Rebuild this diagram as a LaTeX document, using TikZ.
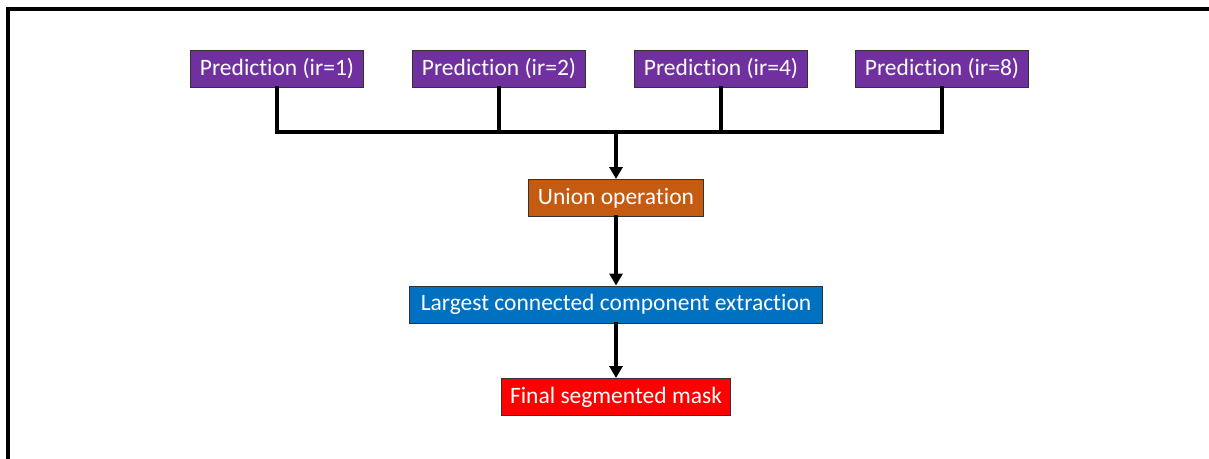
\documentclass[tikz,border=0pt]{standalone}
\usepackage{fontspec}
\setmainfont[Ligatures=NoCommon]{Carlito}
\usetikzlibrary{arrows.meta}
\definecolor{predpurple}{HTML}{7030A0}
\definecolor{unionorange}{HTML}{C55A11}
\definecolor{lccblue}{HTML}{0070C0}
\definecolor{maskred}{HTML}{FF0000}
\tikzset{
  stagebox/.style={draw=black!80,line width=1pt,text=white,inner xsep=9pt,
    minimum height=37pt,font=\fontsize{23.5}{27}\selectfont},
  link/.style={line width=3.2pt,line cap=rect},
  flow/.style={link,-{Triangle[length=12pt,width=13pt]}}
}
\begin{document}
\begin{tikzpicture}[x=1pt,y=-1pt]
  \useasboundingbox (0,0) rectangle (1209,458);
  \draw[line width=3.4pt] (8,460) -- (8,9) -- (1211,9);
  \foreach \n/\x/\r in {p1/277/1,p2/499/2,p3/721/4,p4/942/8}
    {
      \node[stagebox,fill=predpurple] (\n) at (\x,68.5) {Prediction (ir=\r)};
    }
  \coordinate (bus) at (616,132);
  \node[stagebox,fill=unionorange] (union) at (616,198) {Union operation};
  \node[stagebox,fill=lccblue,inner xsep=11pt] (lcc) at (616,304.5) {Largest connected component extraction};
  \node[stagebox,fill=maskred] (mask) at (616,397) {Final segmented mask};
  \draw[link] (p1.south) -- (p1.south |- bus) -- (p4.south |- bus) -- (p4.south);
  \foreach \n in {p2,p3}
    \draw[link] (\n.south) -- (\n.south |- bus);
  \draw[flow] (bus) -- (union);
  \draw[flow] (union) -- (lcc);
  \draw[flow] (lcc) -- (mask);
\end{tikzpicture}
\end{document}
